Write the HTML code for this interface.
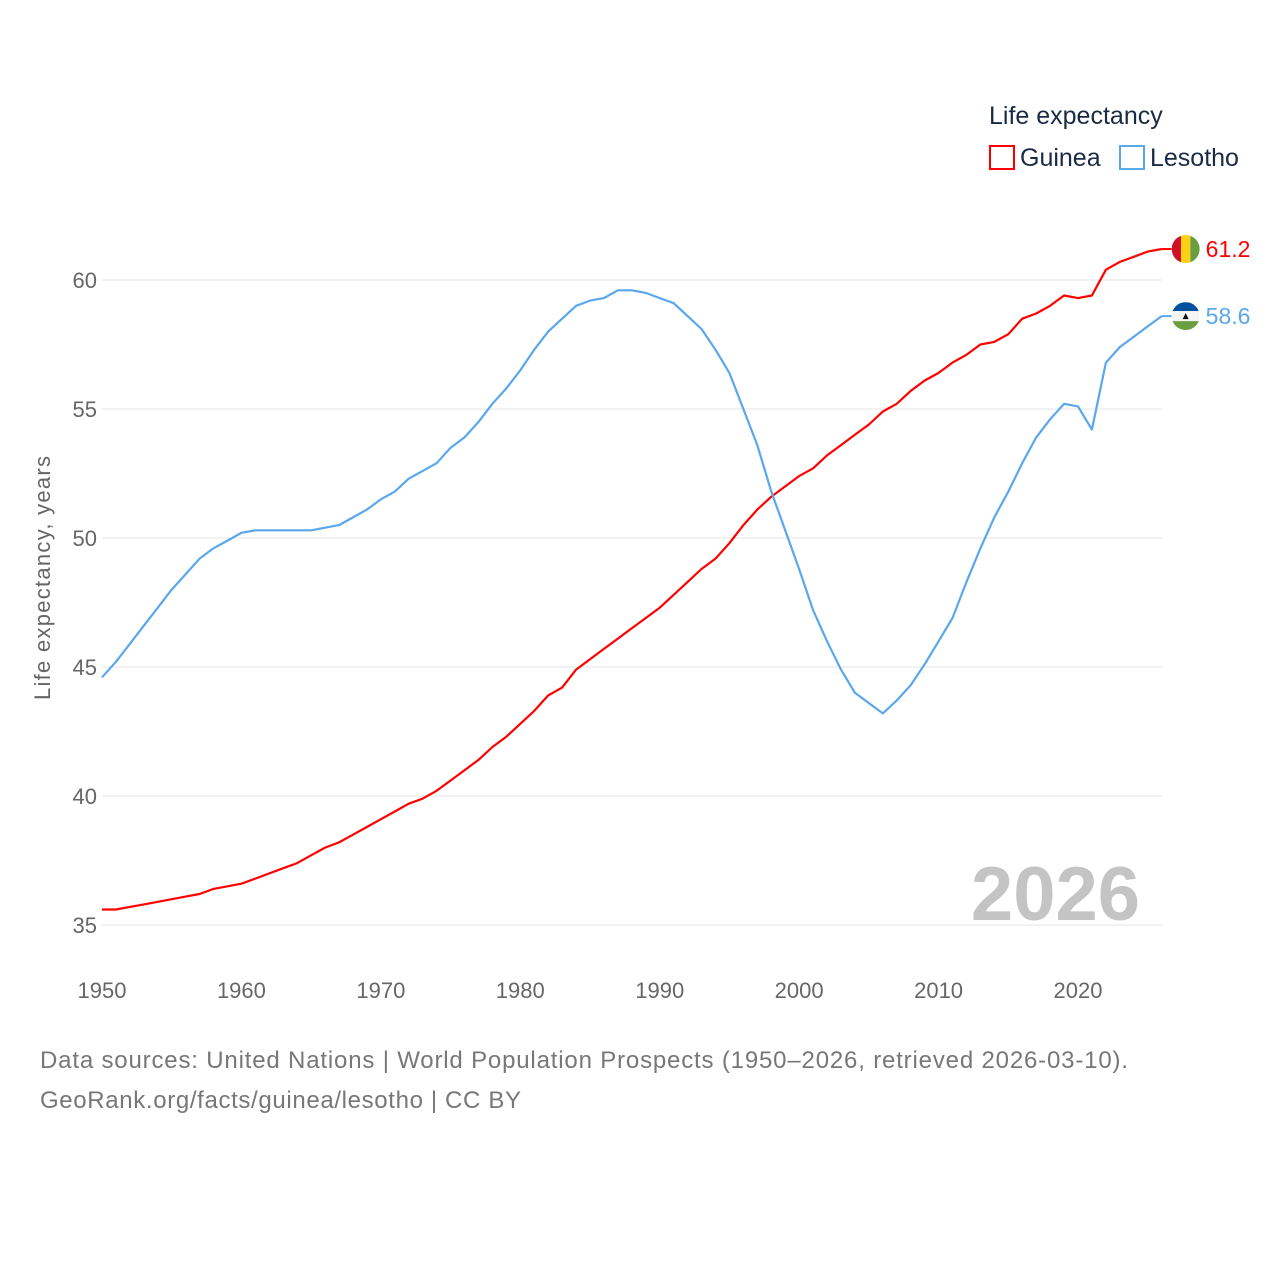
<!DOCTYPE html>
<html><head><meta charset="utf-8">
<style>
body{margin:0;background:#fff;font-family:"Liberation Sans",sans-serif;}
#wrap{position:relative;width:1280px;height:1280px;overflow:hidden;}
svg text{font-family:"Liberation Sans",sans-serif;}
</style></head>
<body>
<div id="wrap">
<svg id="chart" width="1280" height="1280">
  <text x="989" y="124" font-size="25" fill="#1a2a44">Life expectancy</text>
  <rect x="990" y="146" width="24" height="23" fill="none" stroke="#ff0000" stroke-width="2"/>
  <text x="1020" y="166" font-size="25" fill="#1a2a44">Guinea</text>
  <rect x="1120" y="146" width="24" height="23" fill="none" stroke="#5aa7ec" stroke-width="2"/>
  <text x="1150" y="166" font-size="25" fill="#1a2a44">Lesotho</text>
  <g id="grid"></g>
  <g id="series"></g>
  <text x="1140" y="920" font-size="76" font-weight="bold" fill="#c4c4c4" text-anchor="end">2026</text>
  <text transform="translate(50,578) rotate(-90)" font-size="22" fill="#666" text-anchor="middle" textLength="244">Life expectancy, years</text>
  <text x="40" y="1068" font-size="24" fill="#777" textLength="1088">Data sources: United Nations | World Population Prospects (1950–2026, retrieved 2026-03-10).</text>
  <text x="40" y="1108" font-size="24" fill="#777" textLength="481">GeoRank.org/facts/guinea/lesotho | CC BY</text>
</svg>
</div>
<script>
const years = [];
for (let y = 1950; y <= 2026; y++) years.push(y);
const guinea = [35.6,35.6,35.7,35.8,35.9,36.0,36.1,36.2,36.4,36.5,36.6,36.8,37.0,37.2,37.4,37.7,38.0,38.2,38.5,38.8,39.1,39.4,39.7,39.9,40.2,40.6,41.0,41.4,41.9,42.3,42.8,43.3,43.9,44.2,44.9,45.3,45.7,46.1,46.5,46.9,47.3,47.8,48.3,48.8,49.2,49.8,50.5,51.1,51.6,52.0,52.4,52.7,53.2,53.6,54.0,54.4,54.9,55.2,55.7,56.1,56.4,56.8,57.1,57.5,57.6,57.9,58.5,58.7,59.0,59.4,59.3,59.4,60.4,60.7,60.9,61.1,61.2];
const lesotho = [44.6,45.2,45.9,46.6,47.3,48.0,48.6,49.2,49.6,49.9,50.2,50.3,50.3,50.3,50.3,50.3,50.4,50.5,50.8,51.1,51.5,51.8,52.3,52.6,52.9,53.5,53.9,54.5,55.2,55.8,56.5,57.3,58.0,58.5,59.0,59.2,59.3,59.6,59.6,59.5,59.3,59.1,58.6,58.1,57.3,56.4,55.0,53.6,51.8,50.3,48.8,47.2,46.0,44.9,44.0,43.6,43.2,43.7,44.3,45.1,46.0,46.9,48.3,49.6,50.8,51.8,52.9,53.9,54.6,55.2,55.1,54.2,56.8,57.4,57.8,58.2,58.6];
const yTicks = [35,40,45,50,55,60];
const xTicks = [1950,1960,1970,1980,1990,2000,2010,2020];

const NS = "http://www.w3.org/2000/svg";
const xS = y => 102 + (y - 1950) * (976 / 70);
const yS = v => 925 - (v - 35) * (645 / 25);
function mk(tag, attrs, parent) {
  const e = document.createElementNS(NS, tag);
  for (const k in attrs) e.setAttribute(k, attrs[k]);
  parent.appendChild(e);
  return e;
}
const grid = document.getElementById('grid');
yTicks.forEach(v => {
  const l = mk('line', {x1: 102, x2: 1162, y1: yS(v), y2: yS(v), stroke: '#e6e6e6', 'stroke-width': 1}, grid);
  
  
  const t = mk('text', {x: 97, y: yS(v) + 8, 'font-size': 22, fill: '#666', 'text-anchor': 'end'}, grid);
  t.textContent = v;
  
  
});
xTicks.forEach(y => {
  const t = mk('text', {x: xS(y), y: 998, 'font-size': 22, fill: '#666', 'text-anchor': 'middle'}, grid);
  t.textContent = y;
  
  
});
const series = document.getElementById('series');
function drawLine(vals, color, name) {
  const d = vals.map((v, i) => (i ? 'L' : 'M') + xS(years[i]).toFixed(1) + ',' + yS(v).toFixed(1)).join(' ');
  const p = mk('path', {d: d, fill: 'none', stroke: color, 'stroke-width': 2.2, 'stroke-linejoin': 'round'}, series);
  
  
  const last = vals[vals.length - 1];
  const x = xS(years[years.length - 1]);
  const c = mk('line', {x1: x, x2: x + 10, y1: yS(last), y2: yS(last), stroke: color, 'stroke-width': 2}, series);
  
  
  const t = mk('text', {x: x + 44, y: yS(last) + 8, 'font-size': 23, fill: color}, series);
  t.textContent = last.toFixed(1);
  
  
  return [x + 24, yS(last)];
}
const [gx, gy] = drawLine(guinea, '#ff0000', 'guinea-line');
const [lx, ly] = drawLine(lesotho, '#5aa7ec', 'lesotho-line');
// Guinea flag
const gf = mk('g', {}, series);


const cg = mk('clipPath', {id: 'cg'}, gf);
mk('circle', {cx: gx, cy: gy, r: 14}, cg);
const gg = mk('g', {'clip-path': 'url(#cg)'}, gf);
mk('rect', {x: gx - 14, y: gy - 14, width: 9.4, height: 28, fill: '#ce1126'}, gg);
mk('rect', {x: gx - 4.7, y: gy - 14, width: 9.4, height: 28, fill: '#fcd116'}, gg);
mk('rect', {x: gx + 4.7, y: gy - 14, width: 9.4, height: 28, fill: '#6a9e3f'}, gg);
// Lesotho flag
const lf = mk('g', {}, series);


const cp = mk('clipPath', {id: 'cl'}, lf);
mk('circle', {cx: lx, cy: ly, r: 14}, cp);
const lg = mk('g', {'clip-path': 'url(#cl)'}, lf);
mk('rect', {x: lx - 14, y: ly - 14, width: 28, height: 9, fill: '#00509e'}, lg);
mk('rect', {x: lx - 14, y: ly - 5, width: 28, height: 10, fill: '#f4f4f4'}, lg);
mk('rect', {x: lx - 14, y: ly + 5, width: 28, height: 9, fill: '#6a9e3f'}, lg);
mk('path', {d: `M${lx-3},${ly+3} L${lx},${ly-3} L${lx+3},${ly+3} Z`, fill: '#111'}, lg);
</script>
</body></html>
